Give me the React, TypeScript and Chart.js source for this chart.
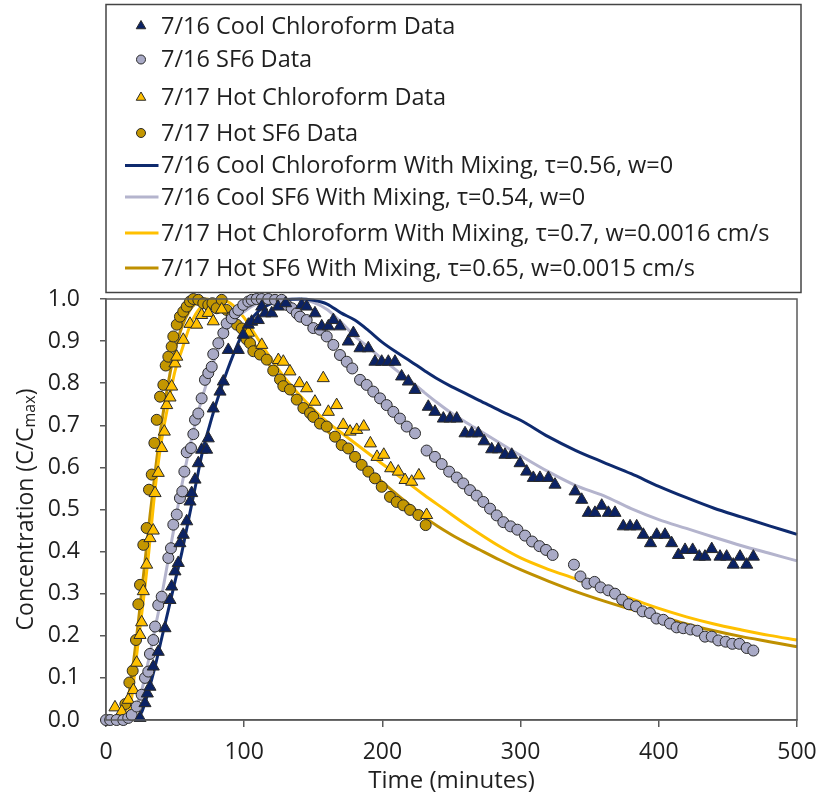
import React, { useEffect, useRef } from 'react';
import { Chart, registerables } from 'chart.js';

Chart.register(...registerables);

type P = [number, number];

const FONT = '"Open Sans", "Liberation Sans", Arial, sans-serif';

// ---------- data (time in minutes, C/Cmax) ----------
const coolChloroformData: P[] = [
  [24.6, 0.005], [28.2, 0.04], [29.9, 0.063], [31.8, 0.079], [34.2, 0.127], [37.8, 0.162], [42.7, 0.218],
  [46.3, 0.285], [47.5, 0.317], [49.9, 0.353], [52.3, 0.373], [53.5, 0.42], [55.9, 0.44], [58.4, 0.472],
  [60.8, 0.519], [62, 0.539], [64.4, 0.571], [66.8, 0.61], [69.2, 0.642], [72.8, 0.642], [74, 0.669],
  [77.6, 0.74], [82.5, 0.78], [84.9, 0.804], [88.5, 0.879], [95.7, 0.879], [99.3, 0.915], [103, 0.939],
  [105.4, 0.946], [110.2, 0.95], [112.7, 0.982], [115, 0.966], [119.9, 0.966], [124.5, 0.982], [130, 0.99],
  [141.6, 0.986], [145.2, 0.982], [151.2, 0.966], [156.1, 0.935], [160.9, 0.935], [164.5, 0.95], [169.3, 0.935],
  [175.3, 0.899], [179, 0.919], [183.8, 0.883], [189.8, 0.883], [194.6, 0.851], [199.5, 0.851], [204.3, 0.851],
  [209.1, 0.851], [213.9, 0.816], [218.8, 0.804], [223.6, 0.784], [233.2, 0.744], [238, 0.732], [244.1, 0.716],
  [248.9, 0.716], [253.8, 0.716], [259.8, 0.681], [264.6, 0.681], [269.4, 0.681], [273.6, 0.662], [279.1, 0.643],
  [283.9, 0.643], [288.7, 0.63], [293.6, 0.63], [299.6, 0.61], [304.4, 0.59], [309.2, 0.575], [314, 0.575],
  [320.1, 0.575], [324.9, 0.559], [339.4, 0.543], [344.2, 0.523], [349, 0.492], [353.8, 0.492], [358.7, 0.509],
  [363.5, 0.492], [368.3, 0.492], [374.3, 0.46], [379.2, 0.46], [384, 0.46], [388.8, 0.44], [394, 0.42],
  [398.5, 0.44], [404.5, 0.44], [409.3, 0.42], [414.2, 0.392], [419, 0.404], [424.5, 0.404], [429.3, 0.388],
  [433.4, 0.388], [438.3, 0.406], [444.3, 0.388], [449.1, 0.388], [453.9, 0.369], [458.8, 0.388], [463.6, 0.369],
  [468.4, 0.388],
];

const coolSF6Data: P[] = [
  [0, 0], [3, 0], [7.7, 0], [12.5, 0], [16.1, 0.005], [18.6, 0.012], [22.2, 0.032], [25.8, 0.06], [28.2, 0.1],
  [30.6, 0.115], [31.8, 0.157], [34.2, 0.19], [35.5, 0.222], [37.8, 0.273], [40.3, 0.293], [45.1, 0.385],
  [47, 0.408], [48.7, 0.464], [51.2, 0.488], [53.5, 0.527], [55.2, 0.543], [56.7, 0.59], [58.4, 0.636],
  [61.5, 0.646], [63.2, 0.679], [64.4, 0.713], [66.8, 0.728], [69.2, 0.764], [71.6, 0.808], [74, 0.824],
  [76.5, 0.839], [77.6, 0.869], [81.3, 0.895], [84.9, 0.919], [87.3, 0.942], [91, 0.954], [93.3, 0.966],
  [95.7, 0.974], [99.3, 0.986], [103, 0.994], [105.4, 0.998], [109, 1.0], [112.7, 1.0], [117.4, 1.0],
  [122.3, 0.998], [127.1, 0.998], [130.7, 0.986], [134.4, 0.978], [138, 0.966], [140.4, 0.958], [145.2, 0.95],
  [150, 0.931], [154.8, 0.927], [159.7, 0.911], [164.5, 0.891], [169.3, 0.867], [174.2, 0.851], [178.2, 0.835],
  [183.8, 0.808], [188.6, 0.796], [193.4, 0.78], [198.3, 0.764], [203.1, 0.748], [207.9, 0.732], [212.7, 0.716],
  [217.6, 0.697], [223.6, 0.681], [232, 0.64], [238, 0.625], [242.9, 0.608], [248.3, 0.59], [253.8, 0.576],
  [258.5, 0.562], [263.4, 0.546], [268.2, 0.533], [273, 0.518], [277.9, 0.502], [282.7, 0.486], [287.5, 0.47],
  [292.7, 0.46], [297.7, 0.452], [303.2, 0.438], [308.3, 0.424], [313.6, 0.413], [318.4, 0.404], [323.2, 0.392],
  [338.6, 0.369], [343.3, 0.341], [348.3, 0.324], [353.5, 0.328], [357.9, 0.315], [363.5, 0.308], [368.3, 0.3],
  [373.5, 0.286], [378.3, 0.275], [383.5, 0.27], [388.3, 0.258], [393.6, 0.254], [398.3, 0.241], [403.3, 0.238],
  [408.1, 0.229], [412.9, 0.22], [417.7, 0.218], [423, 0.215], [427.9, 0.212], [433.4, 0.198], [438.3, 0.198],
  [443.1, 0.189], [448.4, 0.186], [453.2, 0.181], [458.3, 0.181], [463.6, 0.171], [468.4, 0.165],
];

const hotChloroformData: P[] = [
  [6.5, 0.03], [11.4, 0.02], [16.1, 0.048], [19.8, 0.071], [22.2, 0.136], [24.6, 0.202], [25.8, 0.232],
  [27, 0.306], [29.4, 0.369], [31.8, 0.432], [34.2, 0.45], [35.5, 0.539], [37.8, 0.587], [40.3, 0.646],
  [42.2, 0.685], [43.9, 0.748], [46.3, 0.766], [47.5, 0.792], [49.9, 0.847], [51.2, 0.863], [55.9, 0.903],
  [60.8, 0.941], [65.6, 0.939], [69.2, 0.962], [74, 0.967], [77.6, 0.947], [83.7, 0.975], [103, 0.92],
  [112.7, 0.891], [124.7, 0.855], [128.3, 0.851], [133.1, 0.828], [140, 0.8], [145.2, 0.788], [151.2, 0.756],
  [157.2, 0.812], [160.9, 0.732], [166.9, 0.748], [171.7, 0.701], [176.6, 0.685], [181.4, 0.689], [186.5, 0.697],
  [191.3, 0.657], [196.1, 0.625], [201, 0.63], [206, 0.598], [211.5, 0.59], [216.4, 0.57], [221.2, 0.566],
  [226.4, 0.581], [232, 0.487],
];

const hotSF6Data: P[] = [
  [14, 0.038], [16.9, 0.089], [19.3, 0.117], [21.7, 0.19], [23.4, 0.275], [24.6, 0.321], [27, 0.416],
  [29.4, 0.456], [31.1, 0.547], [33.1, 0.583], [35, 0.658], [36.7, 0.713], [39.1, 0.768], [41.5, 0.796],
  [43.2, 0.842], [45.1, 0.863], [47.5, 0.887], [48.7, 0.911], [51.2, 0.939], [53.5, 0.958], [55.9, 0.97],
  [58.4, 0.982], [60.8, 0.994], [63.2, 1.0], [66.8, 0.998], [70.4, 0.99], [74, 0.986], [77, 0.99], [80.1, 0.978],
  [83.7, 0.998], [87.3, 0.974], [91, 0.958], [94.6, 0.939], [98.2, 0.93], [101.8, 0.904], [104.2, 0.895],
  [106.6, 0.876], [111.4, 0.868], [116.3, 0.856], [121, 0.83], [125.9, 0.809], [128.3, 0.793], [133.1, 0.785],
  [138, 0.761], [142.8, 0.741], [147.6, 0.729], [150, 0.72], [154.8, 0.704], [159.7, 0.697], [165.7, 0.673],
  [170.5, 0.653], [175.3, 0.645], [180.2, 0.625], [185, 0.606], [189.8, 0.59], [194.6, 0.574], [199.5, 0.554],
  [205.5, 0.53], [210.3, 0.518], [215.1, 0.51], [220, 0.499], [226, 0.487], [231.3, 0.463],
];

const coolChloroformModel: P[] = [
  [22, 0], [26, 0.02], [30, 0.06], [35, 0.12], [40, 0.19], [45, 0.26], [50, 0.33], [55, 0.4], [60, 0.48],
  [65, 0.56], [70, 0.64], [75, 0.7], [80, 0.755], [90, 0.85], [100, 0.925], [110, 0.97], [120, 0.99],
  [130, 0.998], [140, 1.0], [150, 0.997], [160, 0.988], [170, 0.967], [180, 0.95], [190, 0.925], [200, 0.897],
  [210, 0.874], [220, 0.853], [230, 0.831], [240, 0.81], [250, 0.792], [260, 0.776], [270, 0.759], [280, 0.743],
  [290, 0.727], [300, 0.712], [320, 0.673], [340, 0.64], [360, 0.612], [380, 0.585], [400, 0.555], [420, 0.528],
  [440, 0.503], [460, 0.482], [480, 0.461], [500, 0.441],
];

const coolSF6Model: P[] = [
  [16, 0], [20, 0.02], [25, 0.06], [30, 0.13], [35, 0.21], [40, 0.29], [45, 0.38], [50, 0.47], [55, 0.56],
  [60, 0.64], [65, 0.71], [70, 0.77], [80, 0.87], [90, 0.94], [100, 0.97], [110, 0.99], [120, 0.998],
  [130, 1.0], [140, 0.998], [150, 0.992], [160, 0.975], [170, 0.945], [180, 0.912], [190, 0.885], [200, 0.857],
  [210, 0.831], [220, 0.806], [230, 0.779], [240, 0.753], [250, 0.729], [260, 0.708], [270, 0.688], [280, 0.668],
  [290, 0.648], [300, 0.628], [320, 0.59], [340, 0.557], [360, 0.533], [380, 0.502], [400, 0.476], [420, 0.455],
  [440, 0.434], [460, 0.414], [480, 0.396], [500, 0.378],
];

const hotChloroformModel: P[] = [
  [14, 0], [18, 0.04], [22, 0.15], [25, 0.23], [28, 0.31], [31, 0.4], [34, 0.5], [37, 0.59], [40, 0.66],
  [45, 0.75], [50, 0.83], [55, 0.88], [60, 0.93], [65, 0.965], [70, 0.985], [80, 0.998], [90, 0.99],
  [100, 0.955], [110, 0.905], [120, 0.855], [130, 0.81], [140, 0.772], [150, 0.738], [160, 0.708], [170, 0.683],
  [180, 0.658], [190, 0.633], [200, 0.608], [210, 0.584], [220, 0.56], [230, 0.535], [245, 0.5], [260, 0.465],
  [270, 0.443], [285, 0.412], [300, 0.385], [320, 0.358], [340, 0.335], [360, 0.31], [380, 0.288], [400, 0.265],
  [420, 0.245], [440, 0.228], [460, 0.214], [480, 0.201], [500, 0.19],
];

const hotSF6Model: P[] = [
  [12, 0], [16, 0.05], [20, 0.14], [24, 0.25], [28, 0.37], [32, 0.49], [36, 0.6], [40, 0.7], [45, 0.8],
  [50, 0.88], [55, 0.935], [60, 0.97], [65, 0.99], [72, 1.0], [80, 0.99], [90, 0.96], [100, 0.925], [110, 0.88],
  [120, 0.835], [130, 0.79], [140, 0.755], [150, 0.72], [160, 0.687], [170, 0.655], [180, 0.625], [190, 0.595],
  [200, 0.565], [210, 0.537], [220, 0.51], [230, 0.483], [240, 0.46], [250, 0.44], [260, 0.422], [270, 0.405],
  [285, 0.38], [300, 0.357], [320, 0.33], [340, 0.305], [360, 0.283], [380, 0.263], [400, 0.247], [420, 0.228],
  [440, 0.212], [460, 0.198], [480, 0.186], [500, 0.174],
];

const xTicks = [0, 100, 200, 300, 400, 500];
const yTickStep = 0.1;
const xTitle = 'Time (minutes)';
const yTitleMain = 'Concentration (C/C';
const yTitleSub = 'max';
const yTitleEnd = ')';

const NAVY = '#0B2264';
const NAVY_LINE = '#0E2A6E';
const LAV = '#A9AAC6';
const LAV_LINE = '#B4B4CD';
const YEL = '#FFC000';
const GOLD = '#C39600';
const GOLD_LINE = '#BF9000';
const EDGE = '#2A2A2A';
const AXIS = '#5A5A5A';
const TEXT = '#1F1F1F';

const toXY = (a: P[]) => a.map(([x, y]) => ({ x, y }));

const legendRows = [26, 59.5, 97.5, 133, 165.5, 197, 233, 268];

function drawMarker(ctx: CanvasRenderingContext2D, style: string, x: number, y: number, r: number) {
  ctx.beginPath();
  if (style === 'triangle') {
    ctx.moveTo(x, y - r);
    ctx.lineTo(x + r * 0.866, y + r * 0.5);
    ctx.lineTo(x - r * 0.866, y + r * 0.5);
    ctx.closePath();
  } else {
    ctx.arc(x, y, r, 0, Math.PI * 2);
  }
  ctx.fill();
  ctx.stroke();
}

const decor = {
  id: 'decor',
  afterDraw(chart: any) {
    const { ctx, chartArea } = chart;
    ctx.save();
    // plot border
    ctx.strokeStyle = AXIS;
    ctx.lineWidth = 1.5;
    ctx.strokeRect(chartArea.left, chartArea.top, chartArea.right - chartArea.left, chartArea.bottom - chartArea.top);

    // legend box
    ctx.fillStyle = '#ffffff';
    ctx.fillRect(106, 4.5, 695, 288);
    ctx.strokeStyle = '#444';
    ctx.lineWidth = 1.5;
    ctx.strokeRect(106, 4.5, 695, 288);

    chart.data.datasets.forEach((ds: any, i: number) => {
      const y = legendRows[i];
      if (ds.showLine) {
        ctx.strokeStyle = ds.borderColor;
        ctx.lineWidth = 3;
        ctx.beginPath();
        ctx.moveTo(125, y);
        ctx.lineTo(158.5, y);
        ctx.stroke();
      } else {
        ctx.fillStyle = ds.backgroundColor;
        ctx.strokeStyle = ds.borderColor;
        ctx.lineWidth = 1;
        drawMarker(ctx, ds.pointStyle, 141, y, ds.pointStyle === 'triangle' ? 5.5 : 4.5);
      }
      ctx.fillStyle = TEXT;
      ctx.font = `23.5px ${FONT}`;
      ctx.textAlign = 'left';
      ctx.textBaseline = 'middle';
      ctx.fillText(ds.label, 161, y + 1);
    });

    // x title
    ctx.fillStyle = TEXT;
    ctx.font = `24px ${FONT}`;
    ctx.textAlign = 'center';
    ctx.textBaseline = 'middle';
    ctx.fillText(xTitle, (chartArea.left + chartArea.right) / 2, 781);

    // y title with subscript
    ctx.save();
    ctx.translate(26, (chartArea.top + chartArea.bottom) / 2);
    ctx.rotate(-Math.PI / 2);
    ctx.textAlign = 'left';
    ctx.textBaseline = 'middle';
    ctx.font = `23px ${FONT}`;
    const w1 = ctx.measureText(yTitleMain).width;
    const w3 = ctx.measureText(yTitleEnd).width;
    ctx.font = `16px ${FONT}`;
    const w2 = ctx.measureText(yTitleSub).width;
    const x0 = -(w1 + w2 + w3) / 2;
    ctx.font = `23px ${FONT}`;
    ctx.fillText(yTitleMain, x0, 0);
    ctx.font = `16px ${FONT}`;
    ctx.fillText(yTitleSub, x0 + w1, 4);
    ctx.font = `23px ${FONT}`;
    ctx.fillText(yTitleEnd, x0 + w1 + w2, 0);
    ctx.restore();

    ctx.restore();
  },
};

export default function App() {
  const ref = useRef<HTMLCanvasElement | null>(null);

  useEffect(() => {
    if (!ref.current) return;
    const scatterDs = (label: string, data: P[], style: string, fill: string, r: number) => ({
      label,
      data: toXY(data),
      pointStyle: style,
      pointRadius: r,
      pointHoverRadius: r,
      backgroundColor: fill,
      borderColor: EDGE,
      borderWidth: 1,
      showLine: false,
      clip: false,
    });
    const lineDs = (label: string, data: P[], color: string) => ({
      label,
      data: toXY(data),
      showLine: true,
      pointRadius: 0,
      borderColor: color,
      backgroundColor: color,
      borderWidth: 3,
      cubicInterpolationMode: 'monotone',
      fill: false,
      clip: false,
    });

    const chart = new Chart(ref.current, {
      type: 'scatter',
      data: {
        datasets: [
          scatterDs('7/16 Cool Chloroform Data', coolChloroformData, 'triangle', NAVY, 7),
          scatterDs('7/16 SF6 Data', coolSF6Data, 'circle', LAV, 5.5),
          scatterDs('7/17 Hot Chloroform Data', hotChloroformData, 'triangle', YEL, 7),
          scatterDs('7/17 Hot SF6 Data', hotSF6Data, 'circle', GOLD, 5.5),
          lineDs('7/16 Cool Chloroform With Mixing, τ=0.56, w=0', coolChloroformModel, NAVY_LINE),
          lineDs('7/16 Cool SF6 With Mixing, τ=0.54, w=0', coolSF6Model, LAV_LINE),
          lineDs('7/17 Hot Chloroform With Mixing, τ=0.7, w=0.0016 cm/s', hotChloroformModel, YEL),
          lineDs('7/17 Hot SF6 With Mixing, τ=0.65, w=0.0015 cm/s', hotSF6Model, GOLD_LINE),
        ] as any,
      },
      options: {
        animation: false,
        responsive: false,
        maintainAspectRatio: false,
        devicePixelRatio: 1,
        layout: { padding: { top: 299, right: 20, left: 0, bottom: 0 } },
        plugins: { legend: { display: false }, tooltip: { enabled: false } },
        scales: {
          x: {
            type: 'linear',
            min: xTicks[0],
            max: xTicks[xTicks.length - 1],
            afterBuildTicks: (s: any) => { s.ticks = xTicks.map((v) => ({ value: v })); },
            afterFit: (s: any) => { s.height = 81; s.paddingLeft = 0; s.paddingRight = 0; },
            ticks: { color: TEXT, font: { family: FONT, size: 23 }, padding: 12, maxRotation: 0 },
            grid: { drawOnChartArea: false, drawTicks: true, tickLength: 7, color: AXIS, lineWidth: 1.5 },
            border: { display: true, color: AXIS, width: 1.5 },
          },
          y: {
            type: 'linear',
            min: 0,
            max: 1,
            afterFit: (s: any) => { s.width = 106; s.paddingTop = 0; s.paddingBottom = 0; },
            ticks: {
              stepSize: yTickStep,
              color: TEXT,
              font: { family: FONT, size: 23 },
              padding: 20,
              callback: (v: any) => Number(v).toFixed(1),
            },
            grid: { drawOnChartArea: false, drawTicks: true, tickLength: 6, color: AXIS, lineWidth: 1.5 },
            border: { display: true, color: AXIS, width: 1.5 },
          },
        },
      } as any,
      plugins: [decor],
    });
    return () => chart.destroy();
  }, []);

  return (
    <div style={{ position: 'absolute', left: 0, top: 0, width: 817, height: 801, background: '#fff' }}>
      <canvas ref={ref} width={817} height={801} style={{ display: 'block', width: 817, height: 801 }} />
    </div>
  );
}
